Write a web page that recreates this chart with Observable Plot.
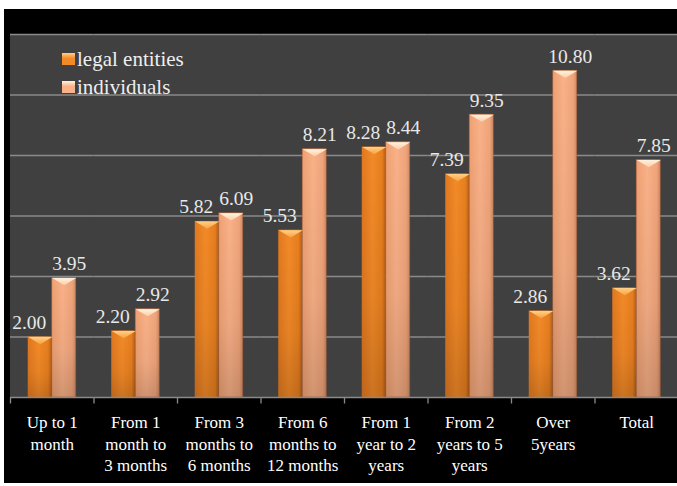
<!DOCTYPE html>
<html><head><meta charset="utf-8">
<script src="https://cdn.jsdelivr.net/npm/d3@7"></script>
<script src="https://cdn.jsdelivr.net/npm/@observablehq/plot@0.6"></script>
<style>
html,body{margin:0;padding:0;background:#fff;}
#wrap{position:absolute;left:4px;top:9px;width:673px;height:474px;background:#000;overflow:hidden;}
#legend{position:absolute;left:0;top:0;}
</style></head><body>
<div id="wrap"></div>
<script>
const categories = ["Up to 1 month","From 1 month to 3 months","From 3 months to 6 months","From 6 months to 12 months","From 1 year to 2 years","From 2 years to 5 years","Over 5years","Total"];
const categoryLabels = ["Up to 1\nmonth","From 1\nmonth to\n3 months","From 3\nmonths to\n6 months","From 6\nmonths to\n12 months","From 1\nyear to 2\nyears","From 2\nyears to 5\nyears","Over\n5years","Total"];
const legal = [2.00, 2.20, 5.82, 5.53, 8.28, 7.39, 2.86, 3.62];
const individuals = [3.95, 2.92, 6.09, 8.21, 8.44, 9.35, 10.80, 7.85];
const seriesNames = ["legal entities", "individuals"];
const yTicks = [2, 4, 6, 8, 10, 12];

const legalRows = categories.map((c, i) => ({category: c, series: seriesNames[0], value: legal[i]}));
const indRows = categories.map((c, i) => ({category: c, series: seriesNames[1], value: individuals[i]}));
const rows = legalRows.concat(indRows);

const FONT = "'Liberation Serif','Times New Roman',serif";
const bevel = {draw(ctx, size) { const r = Math.sqrt(size / Math.PI); ctx.moveTo(-r, 0); ctx.lineTo(r, 0); ctx.lineTo(0, r * 0.6); ctx.closePath(); }};
const tickSym = {draw(ctx, size) { ctx.moveTo(0, 0); ctx.lineTo(0, 6); }};

const svg = Plot.plot({
  width: 674, height: 474,
  marginLeft: 6, marginRight: 0, marginTop: 25, marginBottom: 86,
  style: {background: "#000", maxWidth: "none", fontFamily: FONT, color: "#fff"},
  fx: {domain: categories, padding: 0, round: false, axis: null, label: null},
  x: {domain: seriesNames, paddingInner: 0, paddingOuter: 0.74, round: false, axis: null},
  y: {domain: [0, 12], axis: null},
  marks: [
    Plot.frame({fill: "#404040", stroke: "#404040"}),
    Plot.ruleY(yTicks, {stroke: "#8a8a8a", strokeWidth: 1.3}),
    Plot.barY(legalRows, {fx: "category", x: "series", y: "value", fill: "url(#gLegal)"}),
    Plot.barY(indRows, {fx: "category", x: "series", y: "value", fill: "url(#gInd)", stroke: "rgba(170,95,55,0.6)", strokeWidth: 0.8}),
    Plot.barY(rows, {fx: "category", x: "series", y: "value", fill: "url(#gShade)"}),
    Plot.dot(legalRows, {fx: "category", x: "series", y: "value", symbol: bevel, r: 12, fill: "url(#gBevelL)", stroke: "none"}),
    Plot.dot(indRows, {fx: "category", x: "series", y: "value", symbol: bevel, r: 12, fill: "url(#gBevelI)", stroke: "none"}),
    Plot.ruleY([0], {stroke: "#8a8a8a", strokeWidth: 1.3}),
    Plot.dot(categories, {fx: d => d, frameAnchor: "bottom-left", symbol: tickSym, r: 3, stroke: "#8a8a8a", fill: "none", strokeWidth: 1.3}),
    Plot.text(legalRows, {fx: "category", x: "series", y: "value", text: d => d.value.toFixed(2), dx: -11, dy: -8, lineAnchor: "bottom", fill: "#e8e8e8", fontSize: 19.5, fontFamily: FONT}),
    Plot.text(indRows, {fx: "category", x: "series", y: "value", text: d => d.value.toFixed(2), dx: 5, dy: -8, lineAnchor: "bottom", fill: "#e8e8e8", fontSize: 19.5, fontFamily: FONT}),
    Plot.text(categories, {fx: d => d, text: (d, i) => categoryLabels[i], frameAnchor: "bottom", lineAnchor: "top", dy: 15, lineHeight: 1.28, fill: "#ffffff", fontSize: 17, fontFamily: FONT})
  ]
});

const defs = d3.select(svg).insert("defs", ":first-child");
function grad(id, vertical, stops) {
  const g = defs.append("linearGradient").attr("id", id)
    .attr("x1", 0).attr("y1", 0).attr("x2", vertical ? 0 : 1).attr("y2", vertical ? 1 : 0);
  stops.forEach(([o, c, op]) => g.append("stop").attr("offset", o).attr("stop-color", c).attr("stop-opacity", op == null ? 1 : op));
}
grad("gLegal", false, [[0, "#E0781F"], [0.45, "#F38A28"], [0.85, "#E67E1E"], [1, "#B25C18"]]);
grad("gInd", false, [[0, "#EFA072"], [0.45, "#F9B188"], [0.85, "#F0A47A"], [1, "#CF8A64"]]);
grad("gShade", true, [[0, "#000", 0], [0.6, "#000", 0.05], [1, "#000", 0.16]]);
grad("gBevelL", true, [[0, "#FFD088"], [1, "#F7A242"]]);
grad("gBevelI", true, [[0, "#FFF2DE"], [1, "#FCCDA8"]]);

document.getElementById("wrap").appendChild(svg);

// legend
const lg = d3.select("#wrap").append("svg").attr("id", "legend").attr("width", 300).attr("height", 100);
const ldefs = lg.append("defs");
[["lL", "#F38A28", "#FFD088"], ["lI", "#F9B188", "#FFF2DE"]].forEach(([id, c, hi]) => {
  const g = ldefs.append("linearGradient").attr("id", id).attr("x1", 0).attr("y1", 0).attr("x2", 0).attr("y2", 1);
  g.append("stop").attr("offset", 0).attr("stop-color", hi);
  g.append("stop").attr("offset", 0.45).attr("stop-color", c);
  g.append("stop").attr("offset", 1).attr("stop-color", c);
});
seriesNames.forEach((name, i) => {
  const y0 = 44 + i * 28;
  lg.append("rect").attr("x", 58).attr("y", y0).attr("width", 13).attr("height", 12).attr("fill", i === 0 ? "url(#lL)" : "url(#lI)");
  lg.append("text").attr("x", 73).attr("y", y0 + 13).attr("fill", "#eeeeee").attr("font-size", 21).attr("font-family", FONT).text(name);
});
</script>
</body></html>
